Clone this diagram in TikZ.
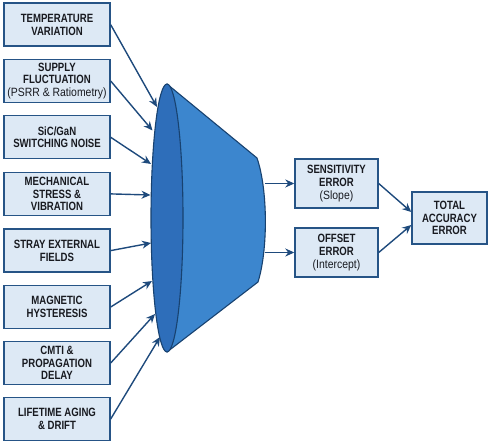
\documentclass[tikz,border=0pt]{standalone}
\usepackage{fontspec}
\setmainfont{Liberation Sans}
\newfontfamily\boxfont{Liberation Sans}[FakeStretch=0.8]
\newfontfamily\boxreg{Liberation Sans}[FakeStretch=0.87]
\usetikzlibrary{arrows.meta}
\definecolor{boxfill}{RGB}{221,233,245}
\definecolor{boxline}{RGB}{38,84,134}
\definecolor{arrowcol}{RGB}{30,74,124}
\definecolor{funneldark}{RGB}{46,110,186}
\definecolor{funnellight}{RGB}{60,134,206}
\definecolor{funnelline}{RGB}{24,66,112}
\definecolor{txt}{RGB}{24,26,32}
\tikzset{
  errbox/.style={draw=boxline, fill=boxfill, line width=1.4pt, inner sep=0pt,
    align=center, text=txt, font=\boxfont\bfseries\fontsize{12}{12.7}\selectfont},
  leftbox/.style={errbox, minimum width=106pt, minimum height=43pt},
  flow/.style={draw=arrowcol, line width=1.4pt, -{Stealth[length=9pt,width=8pt]}}
}
\newcommand{\plain}[1]{{\boxreg\mdseries #1}}
\begin{document}
\begin{tikzpicture}[x=1pt,y=-1pt]
\useasboundingbox (0,0) rectangle (500,446);
% funnel
\draw[funnelline, line width=1.1pt, fill=funnellight, line join=round]
  (167,84) -- (257,158) .. controls (268,190) and (268,250) .. (258,282)
  -- (167,352) -- cycle;
\draw[funnelline, line width=1.1pt, fill=funneldark] (167,218) ellipse [x radius=16, y radius=134];
% funnel connection points
\coordinate (f1) at (157,107);
\coordinate (f2) at (152.5,130.5);
\coordinate (f3) at (151,164);
\coordinate (f4) at (150.5,195);
\coordinate (f5) at (151,243);
\coordinate (f6) at (152,281);
\coordinate (f7) at (155,314);
\coordinate (f8) at (160,337);
\coordinate (fs) at (265,183.5);
\coordinate (fo) at (265,252.5);
% left boxes
\node[leftbox] (b1) at (57,24.7) {TEMPERATURE\\VARIATION};
\node[leftbox] (b2) at (57,81) {SUPPLY\\FLUCTUATION\\\plain{(PSRR \& Ratiometry)}};
\node[leftbox] (b3) at (57,137.3) {SiC/GaN\\SWITCHING NOISE};
\node[leftbox] (b4) at (57,193.9) {MECHANICAL\\STRESS \&\\VIBRATION};
\node[leftbox] (b5) at (57,250.6) {STRAY EXTERNAL\\FIELDS};
\node[leftbox] (b6) at (57,307) {MAGNETIC\\HYSTERESIS};
\node[leftbox] (b7) at (57,363) {CMTI \&\\PROPAGATION\\DELAY};
\node[leftbox] (b8) at (57,419) {LIFETIME AGING\\\& DRIFT};
% right boxes
\node[errbox, minimum width=83pt, minimum height=49pt] (s) at (336.5,183.5) {SENSITIVITY\\ERROR\\\plain{(Slope)}};
\node[errbox, minimum width=83pt, minimum height=49pt] (o) at (336.5,252.5) {OFFSET\\ERROR\\\plain{(Intercept)}};
\node[errbox, minimum width=75pt, minimum height=52pt] (t) at (449.5,218) {TOTAL\\ACCURACY\\ERROR};
% connectors
\foreach \i in {1,...,8} {\draw[flow] (b\i.east) -- (f\i);}
\draw[flow] (fs) -- (s.west);
\draw[flow] (fo) -- (o.west);
\draw[flow] (s.east) -- ([yshift=6pt]t.west);
\draw[flow] (o.east) -- ([yshift=-7pt]t.west);
\end{tikzpicture}
\end{document}
